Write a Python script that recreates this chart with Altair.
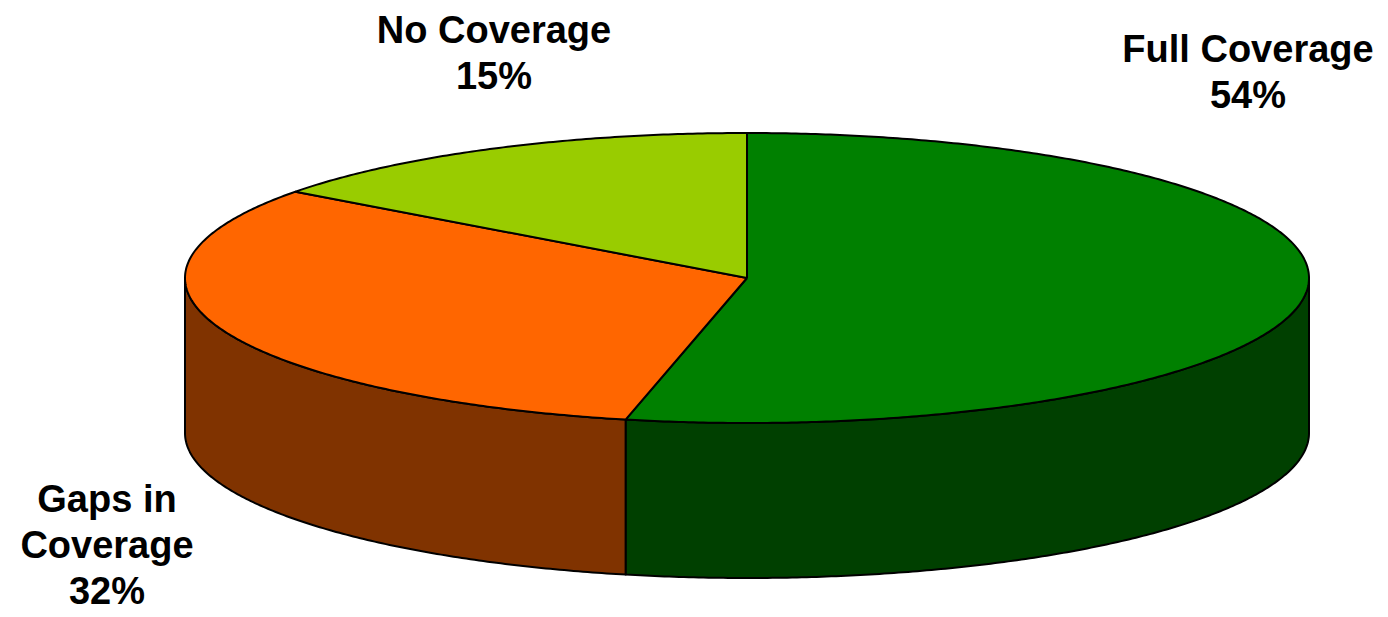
import math
import altair as alt
import pandas as pd

# ---- data ----
categories = ["Full Coverage", "Gaps in Coverage", "No Coverage"]
values = [54, 32, 15]
label_lines = [["Full Coverage"], ["Gaps in", "Coverage"], ["No Coverage"]]
top_colors = ["#008000", "#FF6600", "#99CC00"]
side_colors = ["#004000", "#803300", "#4D6600"]

# ---- layout (page pixel space) ----
CX, CY, RX, RY, DEPTH = 747, 278, 562, 145, 155
label_anchor = [(1248, 62), (107, 512), (494, 43)]
W, H = 1372, 609

total = float(sum(values))


def ell(t_deg, dy=0.0):
    t = math.radians(t_deg)
    return CX + RX * math.sin(t), CY - RY * math.cos(t) + dy


def arc(a, b, step=0.5):
    n = max(2, int(abs(b - a) / step) + 1)
    return [a + (b - a) * k / (n - 1) for k in range(n)]


tops, sides = [], []
start = 0.0
for cat, v, tc, sc in zip(categories, values, top_colors, side_colors):
    end = start + v / total * 360.0
    # top face
    pts = [(CX, CY)] + [ell(t) for t in arc(start, end)] + [(CX, CY)]
    for i, (x, y) in enumerate(pts):
        tops.append({"piece": cat, "i": i, "x": x, "y": y, "color": tc})
    # visible front wall
    a, b = max(start, 90.0), min(end, 270.0)
    if b > a:
        up = [ell(t) for t in arc(a, b)]
        down = [ell(t, DEPTH) for t in arc(b, a)]
        pts = up + down + [up[0]]
        for i, (x, y) in enumerate(pts):
            sides.append({"piece": cat, "i": i, "x": x, "y": y, "color": sc})
    start = end

labels = []
for lines, v, (lx, ly) in zip(label_lines, values, label_anchor):
    labels.append({"text": "\n".join(lines + [f"{v}%"]), "x": lx, "y": ly})

xs = alt.Scale(domain=[8, 8 + W])
ys = alt.Scale(domain=[8, 8 + H], reverse=True)


def poly(df):
    return alt.Chart(pd.DataFrame(df)).mark_line(
        stroke="black", strokeWidth=2, strokeJoin="round", interpolate="linear"
    ).encode(
        x=alt.X("x:Q", scale=xs, axis=None),
        y=alt.Y("y:Q", scale=ys, axis=None),
        order=alt.Order("i:Q"),
        detail="piece:N",
        fill=alt.Fill("color:N", scale=None),
    )


text = alt.Chart(pd.DataFrame(labels)).mark_text(
    font="Liberation Sans", fontSize=38, fontWeight="bold", align="center",
    baseline="alphabetic", lineBreak="\n", lineHeight=46, color="black",
).encode(
    x=alt.X("x:Q", scale=xs, axis=None),
    y=alt.Y("y:Q", scale=ys, axis=None),
    text="text:N",
)

chart = alt.layer(poly(sides), poly(tops), text).properties(
    width=W, height=H, autosize=alt.AutoSizeParams(type="none"), padding=0,
    background="white",
).configure_view(stroke=None)

chart.save("out.html", embed_options={"renderer": "svg", "actions": False})
